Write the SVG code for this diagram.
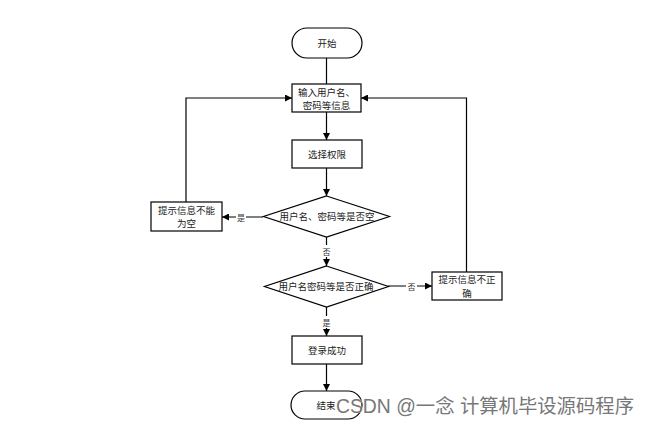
<svg xmlns="http://www.w3.org/2000/svg" width="649" height="425" viewBox="0 0 649 425">
<defs>
<marker id="ah" viewBox="0 0 10 10" refX="10" refY="5" markerWidth="7" markerHeight="7" markerUnits="userSpaceOnUse" orient="auto">
<path d="M0,0 L10,5 L0,10 z" fill="#000"/>
</marker>
</defs>
<style>
.n{fill:#fff;stroke:#000;stroke-width:1.2}
.t{font-family:"Noto Sans CJK SC","Liberation Sans",sans-serif;font-size:9.5px;fill:#222;text-anchor:middle;dominant-baseline:central}
.e{fill:none;stroke:#000;stroke-width:1.2}
.l{font-family:"Noto Sans CJK SC","Liberation Sans",sans-serif;font-size:8px;fill:#333;text-anchor:middle;dominant-baseline:central}
.lb{fill:#fff}
.wm{font-family:"Liberation Sans","Noto Sans CJK SC",sans-serif;font-size:19.5px;fill:#777;stroke:#fff;stroke-width:0.6;paint-order:stroke}
</style>
<rect width="649" height="425" fill="#fff"/>
<g id="connectors">
<path class="e" d="M326.5,58 V84"/>
<path class="e" d="M326.5,112 V140" marker-end="url(#ah)"/>
<path class="e" d="M326.5,168 V196" marker-end="url(#ah)"/>
<path class="e" d="M263,217 H222" marker-end="url(#ah)"/>
<path class="e" d="M186,202 V98 H292" marker-end="url(#ah)"/>
<path class="e" d="M326.5,237 V266" marker-end="url(#ah)"/>
<path class="e" d="M388,286 H432" marker-end="url(#ah)"/>
<path class="e" d="M466.5,272 V98 H361" marker-end="url(#ah)"/>
<path class="e" d="M326.5,307 V336" marker-end="url(#ah)"/>
<path class="e" d="M326.5,364 V391" marker-end="url(#ah)"/>
<rect class="lb" x="236" y="211" width="10" height="12"/>
<text class="l" x="241" y="217">是</text>
<rect class="lb" x="321.5" y="245" width="10" height="12"/>
<text class="l" x="326.5" y="251">否</text>
<rect class="lb" x="406" y="280" width="11" height="12"/>
<text class="l" x="411.5" y="286">否</text>
<rect class="lb" x="321.5" y="316" width="10" height="12"/>
<text class="l" x="326.5" y="322">是</text>
</g>
<g id="start">
<rect class="n" x="292" y="28" width="70" height="30" rx="15"/>
<text class="t" x="327" y="43">开始</text>
</g>
<g id="input">
<rect class="n" x="292" y="84" width="69" height="28"/>
<text class="t" x="326.5" y="91.5">输入用户名、</text>
<text class="t" x="326.5" y="104.5">密码等信息</text>
</g>
<g id="select">
<rect class="n" x="292" y="140" width="70" height="28"/>
<text class="t" x="327" y="154">选择权限</text>
</g>
<g id="check-empty">
<polygon class="n" points="326.5,196 389.5,216.5 326.5,237 263.5,216.5"/>
<text class="t" x="327" y="216">用户名、密码等是否空</text>
</g>
<g id="empty-msg">
<rect class="n" x="151" y="202" width="71" height="29"/>
<text class="t" x="186.5" y="209.5">提示信息不能</text>
<text class="t" x="186.5" y="223">为空</text>
</g>
<g id="check-correct">
<polygon class="n" points="326.5,266 388.5,286.5 326.5,307 264.5,286.5"/>
<text class="t" x="326" y="286">用户名密码等是否正确</text>
</g>
<g id="wrong-msg">
<rect class="n" x="432" y="272" width="70" height="28"/>
<text class="t" x="467" y="279">提示信息不正</text>
<text class="t" x="467" y="292.5">确</text>
</g>
<g id="success">
<rect class="n" x="292" y="336" width="70" height="28"/>
<text class="t" x="327" y="350">登录成功</text>
</g>
<g id="end">
<rect class="n" x="291" y="391" width="71" height="28" rx="14"/>
<text class="t" x="326" y="405">结束</text>
</g>
<text class="wm" x="336" y="413" textLength="298" lengthAdjust="spacingAndGlyphs">CSDN @一念 计算机毕设源码程序</text>
</svg>
